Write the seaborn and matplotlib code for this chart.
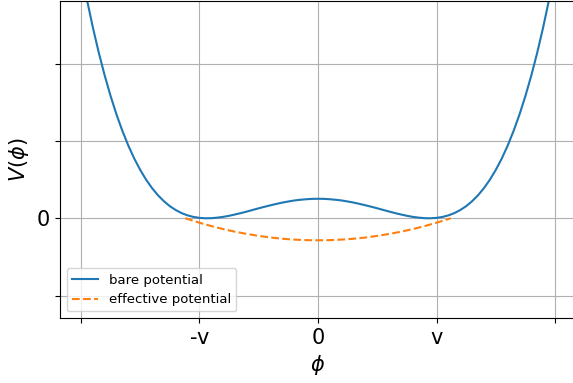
import matplotlib
matplotlib.use("Agg")
import matplotlib.pyplot as plt
import seaborn as sns

# bare double-well potential
phi_bare = [-2.00, -1.95, -1.90, -1.85, -1.80, -1.75, -1.70, -1.65, -1.60, -1.55,
            -1.50, -1.45, -1.40, -1.35, -1.30, -1.25, -1.20, -1.15, -1.10, -1.05,
            -1.00, -0.95, -0.90, -0.85, -0.80, -0.75, -0.70, -0.65, -0.60, -0.55,
            -0.50, -0.45, -0.40, -0.35, -0.30, -0.25, -0.20, -0.15, -0.10, -0.05,
            0.00,
            0.05, 0.10, 0.15, 0.20, 0.25, 0.30, 0.35, 0.40, 0.45, 0.50,
            0.55, 0.60, 0.65, 0.70, 0.75, 0.80, 0.85, 0.90, 0.95, 1.00,
            1.05, 1.10, 1.15, 1.20, 1.25, 1.30, 1.35, 1.40, 1.45, 1.50,
            1.55, 1.60, 1.65, 1.70, 1.75, 1.80, 1.85, 1.90, 1.95, 2.00]
v_bare = [3.225, 2.830, 2.470, 2.143, 1.847, 1.581, 1.341, 1.128, 0.938, 0.771,
          0.625, 0.498, 0.389, 0.297, 0.220, 0.156, 0.106, 0.066, 0.037, 0.017,
          0.005, 0.000, 0.001, 0.008, 0.018, 0.032, 0.049, 0.067, 0.087, 0.108,
          0.129, 0.149, 0.168, 0.186, 0.203, 0.217, 0.230, 0.239, 0.246, 0.251,
          0.252,
          0.251, 0.246, 0.239, 0.230, 0.217, 0.203, 0.186, 0.168, 0.149, 0.129,
          0.108, 0.087, 0.067, 0.049, 0.032, 0.018, 0.008, 0.001, 0.000, 0.005,
          0.017, 0.037, 0.066, 0.106, 0.156, 0.220, 0.297, 0.389, 0.498, 0.625,
          0.771, 0.938, 1.128, 1.341, 1.581, 1.847, 2.143, 2.470, 2.830, 3.225]

# effective potential (dashed)
phi_eff = [-1.12, -1.10, -1.00, -0.90, -0.80, -0.70, -0.60, -0.50, -0.40, -0.30,
           -0.20, -0.10, 0.00, 0.10, 0.20, 0.30, 0.40, 0.50, 0.60, 0.70,
           0.80, 0.90, 1.00, 1.10, 1.12]
v_eff = [0.000, -0.010, -0.058, -0.101, -0.140, -0.174, -0.203, -0.228, -0.249, -0.265,
         -0.276, -0.283, -0.285, -0.283, -0.276, -0.265, -0.249, -0.228, -0.203, -0.174,
         -0.140, -0.101, -0.058, -0.010, 0.000]

x_ticks = [-2, -1, 0, 1, 2]
x_tick_labels = ["", "-v", "0", "v", ""]
y_ticks = [-1, 0, 1, 2]
y_tick_labels = ["", "0", "", ""]

fig, ax = plt.subplots(figsize=(5.73, 3.83), dpi=100)
fig.subplots_adjust(left=60 / 573, right=576 / 573, bottom=1 - 318 / 383, top=1 - 1 / 383)

sns.lineplot(x=phi_bare, y=v_bare, ax=ax, color="C0", linewidth=1.5, label="bare potential")
sns.lineplot(x=phi_eff, y=v_eff, ax=ax, color="C1", linewidth=1.5, linestyle="--",
             label="effective potential")

ax.set_xlim(-2.177, 2.177)
ax.set_ylim(-1.29, 2.81)
ax.set_xticks(x_ticks)
ax.set_xticklabels(x_tick_labels, fontsize=15)
ax.set_yticks(y_ticks)
ax.set_yticklabels(y_tick_labels, fontsize=15)
ax.set_xlabel(r"$\phi$", fontsize=15)
ax.set_ylabel(r"$V(\phi)$", fontsize=15)
ax.grid(True, color="#b0b0b0", linewidth=0.8)
ax.legend(loc="lower left", fontsize=9.5)

fig.savefig("out.png", dpi=100)
